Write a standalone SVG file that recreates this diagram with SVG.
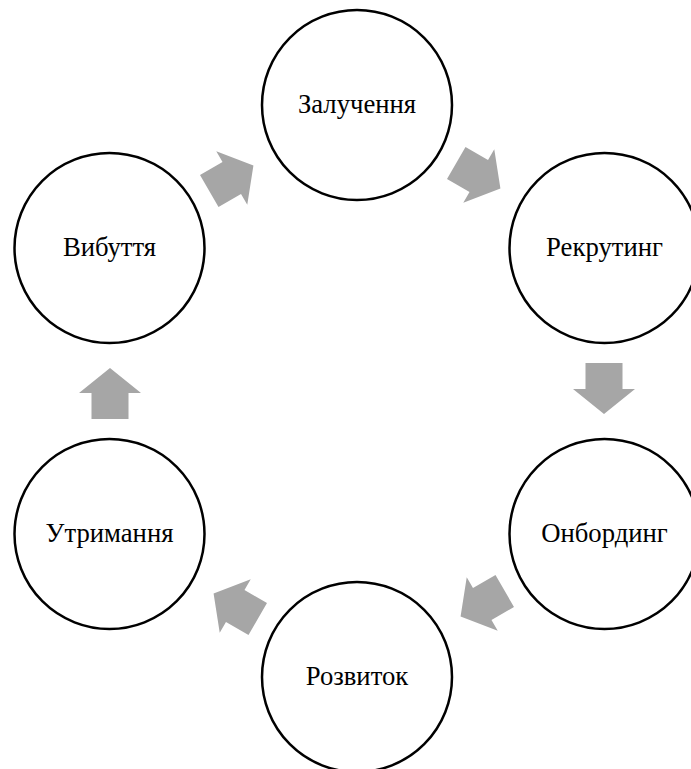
<svg xmlns="http://www.w3.org/2000/svg" width="691" height="769" viewBox="0 0 691 769">
<style>
.node circle{fill:#ffffff;stroke:#000000;stroke-width:2.5}
.node text{font-family:"Liberation Serif","Times New Roman",serif;font-size:26.7px;fill:#000000;text-anchor:middle}
.arrow{fill:#a6a6a6}
</style>
<defs>
<polygon id="arr" points="-28,-18.5 -2,-18.5 -2,-31 23,0 -2,31 -2,18.5 -28,18.5"/>
</defs>
<rect width="691" height="769" fill="#ffffff"/>
<g id="connectors">
<use href="#arr" class="arrow" transform="translate(233.5,177) rotate(-30)"/>
<use href="#arr" class="arrow" transform="translate(480.5,177) rotate(30)"/>
<use href="#arr" class="arrow" transform="translate(604,391) rotate(90)"/>
<use href="#arr" class="arrow" transform="translate(480.5,605) rotate(150)"/>
<use href="#arr" class="arrow" transform="translate(233.5,605) rotate(210)"/>
<use href="#arr" class="arrow" transform="translate(110,391) rotate(270)"/>
</g>
<g id="node-zaluchennia" class="node"><circle cx="357" cy="105" r="95"/><text x="357" y="113">Залучення</text></g>
<g id="node-rekrutynh" class="node"><circle cx="604.5" cy="248" r="95"/><text x="604.5" y="256">Рекрутинг</text></g>
<g id="node-onbordynh" class="node"><circle cx="604.5" cy="534" r="95"/><text x="604.5" y="542">Онбординг</text></g>
<g id="node-rozvytok" class="node"><circle cx="357" cy="677" r="95"/><text x="357" y="685">Розвиток</text></g>
<g id="node-utrymannia" class="node"><circle cx="109.5" cy="534" r="95"/><text x="109.5" y="542">Утримання</text></g>
<g id="node-vybuttia" class="node"><circle cx="109.5" cy="248" r="95"/><text x="109.5" y="256">Вибуття</text></g>
</svg>
